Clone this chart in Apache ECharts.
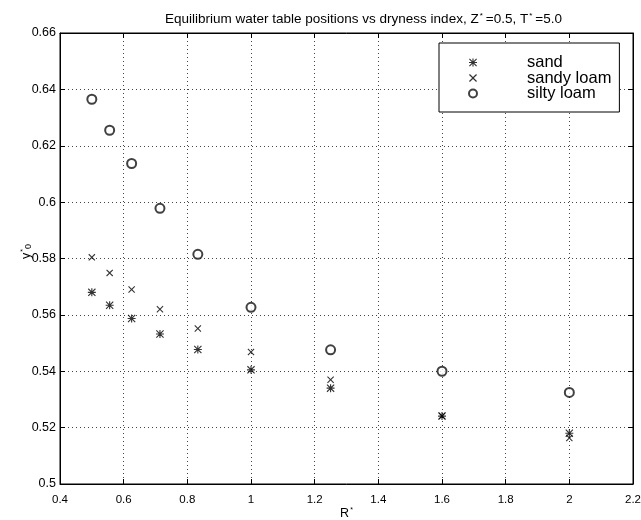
<!DOCTYPE html>
<html>
<head>
<meta charset="utf-8">
<script src="https://cdn.jsdelivr.net/npm/echarts@6/dist/echarts.min.js"></script>
<style>html,body{margin:0;padding:0;background:#fff;}#c{width:641px;height:520px;}</style>
</head>
<body>
<div id="c"></div>
<script>
// R* values (x)
var rValues = [0.5, 0.556, 0.625, 0.714, 0.833, 1.0, 1.25, 1.6, 2.0];
// y0* values per soil
var sand       = [0.568, 0.5634, 0.5587, 0.5532, 0.5477, 0.5405, 0.534, 0.5241, 0.518];
var sandyLoam  = [0.5804, 0.5749, 0.569, 0.562, 0.5552, 0.5468, 0.537, 0.5241, 0.5163];
var siltyLoam  = [0.6365, 0.6255, 0.6137, 0.5978, 0.5815, 0.5627, 0.5476, 0.540, 0.5325];
var seriesNames = ['sand', 'sandy loam', 'silty loam'];

var starPath = 'path://M4.3,0 L5.7,0 L5.7,10 L4.3,10 Z M0,4.3 L10,4.3 L10,5.7 L0,5.7 Z M0,1 L1,0 L5,4 L9,0 L10,1 L6,5 L10,9 L9,10 L5,6 L1,10 L0,9 L4,5 Z';
var xPath = 'path://M0,1.1 L1.1,0 L5,3.9 L8.9,0 L10,1.1 L6.1,5 L10,8.9 L8.9,10 L5,6.1 L1.1,10 L0,8.9 L3.9,5 Z';

function pairs(xs, ys) { return xs.map(function (x, i) { return [x, ys[i]]; }); }

var font = 'Liberation Sans, Arial, Helvetica, sans-serif';
var axisCommon = {
  axisLine: { show: true, lineStyle: { color: '#000', width: 1 } },
  axisTick: { show: true, inside: true, length: 5, lineStyle: { color: '#000' } }
};

var chart = echarts.init(document.getElementById('c'));
chart.setOption({
  animation: false,
  backgroundColor: '#fff',
  title: {
    text: 'Equilibrium water table positions vs dryness index, Z{s|*}=0.5, T{s|*}=5.0',
    left: 160, top: 7,
    textStyle: {
      fontFamily: font, fontSize: 13.5, fontWeight: 'normal', color: '#000',
      rich: { s: { fontSize: 8, verticalAlign: 'top', padding: [0, 3, 7, 1], fontFamily: font } }
    }
  },
  grid: { left: 60, right: 8, top: 33, bottom: 36, show: true, borderColor: '#000', borderWidth: 1,
          outerBoundsMode: 'none', containLabel: false },
  legend: {
    orient: 'vertical', left: 439, top: 43,
    padding: [11, 8, 10, 29],
    backgroundColor: '#fff',
    borderColor: '#000', borderWidth: 1,
    itemWidth: 10, itemHeight: 8, itemGap: -1.5,
    data: seriesNames,
    textStyle: { fontFamily: font, fontSize: 16.5, lineHeight: 14.5, color: '#000', padding: [0, 0, 0, 44] }
  },
  xAxis: [
    Object.assign({
      type: 'value', min: 0.4, max: 2.2, interval: 0.2,
      name: 'R{s|*}', nameLocation: 'middle', nameGap: 23, nameMoveOverlap: false,
      nameTextStyle: { fontFamily: font, fontSize: 12.5, color: '#000',
        rich: { s: { fontSize: 7, verticalAlign: 'top', padding: [0, 0, 6, 1] } } },
      axisLabel: { fontFamily: font, fontSize: 11.5, color: '#000', margin: 10,
        formatter: function (v) { return String(Math.round(v * 10) / 10); } },
      splitLine: { show: true, lineStyle: { color: '#444', type: [1, 3], width: 1 } }
    }, axisCommon),
    Object.assign({
      type: 'value', min: 0.4, max: 2.2, interval: 0.2, position: 'top',
      axisLabel: { show: false }, splitLine: { show: false }
    }, axisCommon)
  ],
  yAxis: [
    Object.assign({
      type: 'value', min: 0.5, max: 0.66, interval: 0.02,
      name: 'y{s|*}{b|0}', nameLocation: 'middle', nameGap: 27, nameRotate: 90, nameMoveOverlap: false,
      nameTextStyle: { fontFamily: font, fontSize: 12.5, color: '#000', padding: [0, 0, 0, 14],
        rich: { s: { fontSize: 7, verticalAlign: 'top', padding: [0, 0, 6, 1] },
                b: { fontSize: 9, verticalAlign: 'bottom', padding: [4, 0, 0, 0] } } },
      axisLabel: { fontFamily: font, fontSize: 12.5, color: '#000', margin: 4,
        formatter: function (v) { return String(Math.round(v * 100) / 100); } },
      splitLine: { show: true, lineStyle: { color: '#444', type: [1, 3], width: 1 } }
    }, axisCommon),
    Object.assign({
      type: 'value', min: 0.5, max: 0.66, interval: 0.02, position: 'right',
      axisLabel: { show: false }, splitLine: { show: false }
    }, axisCommon)
  ],
  series: [
    { name: seriesNames[0], type: 'scatter', data: pairs(rValues, sand),
      symbol: starPath, symbolSize: 8, itemStyle: { color: '#000' } },
    { name: seriesNames[1], type: 'scatter', data: pairs(rValues, sandyLoam),
      symbol: xPath, symbolSize: 7, itemStyle: { color: '#000' } },
    { name: seriesNames[2], type: 'scatter', data: pairs(rValues, siltyLoam),
      symbol: 'emptyCircle', symbolSize: 9,
      itemStyle: { color: '#111', borderColor: '#111', borderWidth: 0.7 } }
  ]
});
</script>
</body>
</html>
